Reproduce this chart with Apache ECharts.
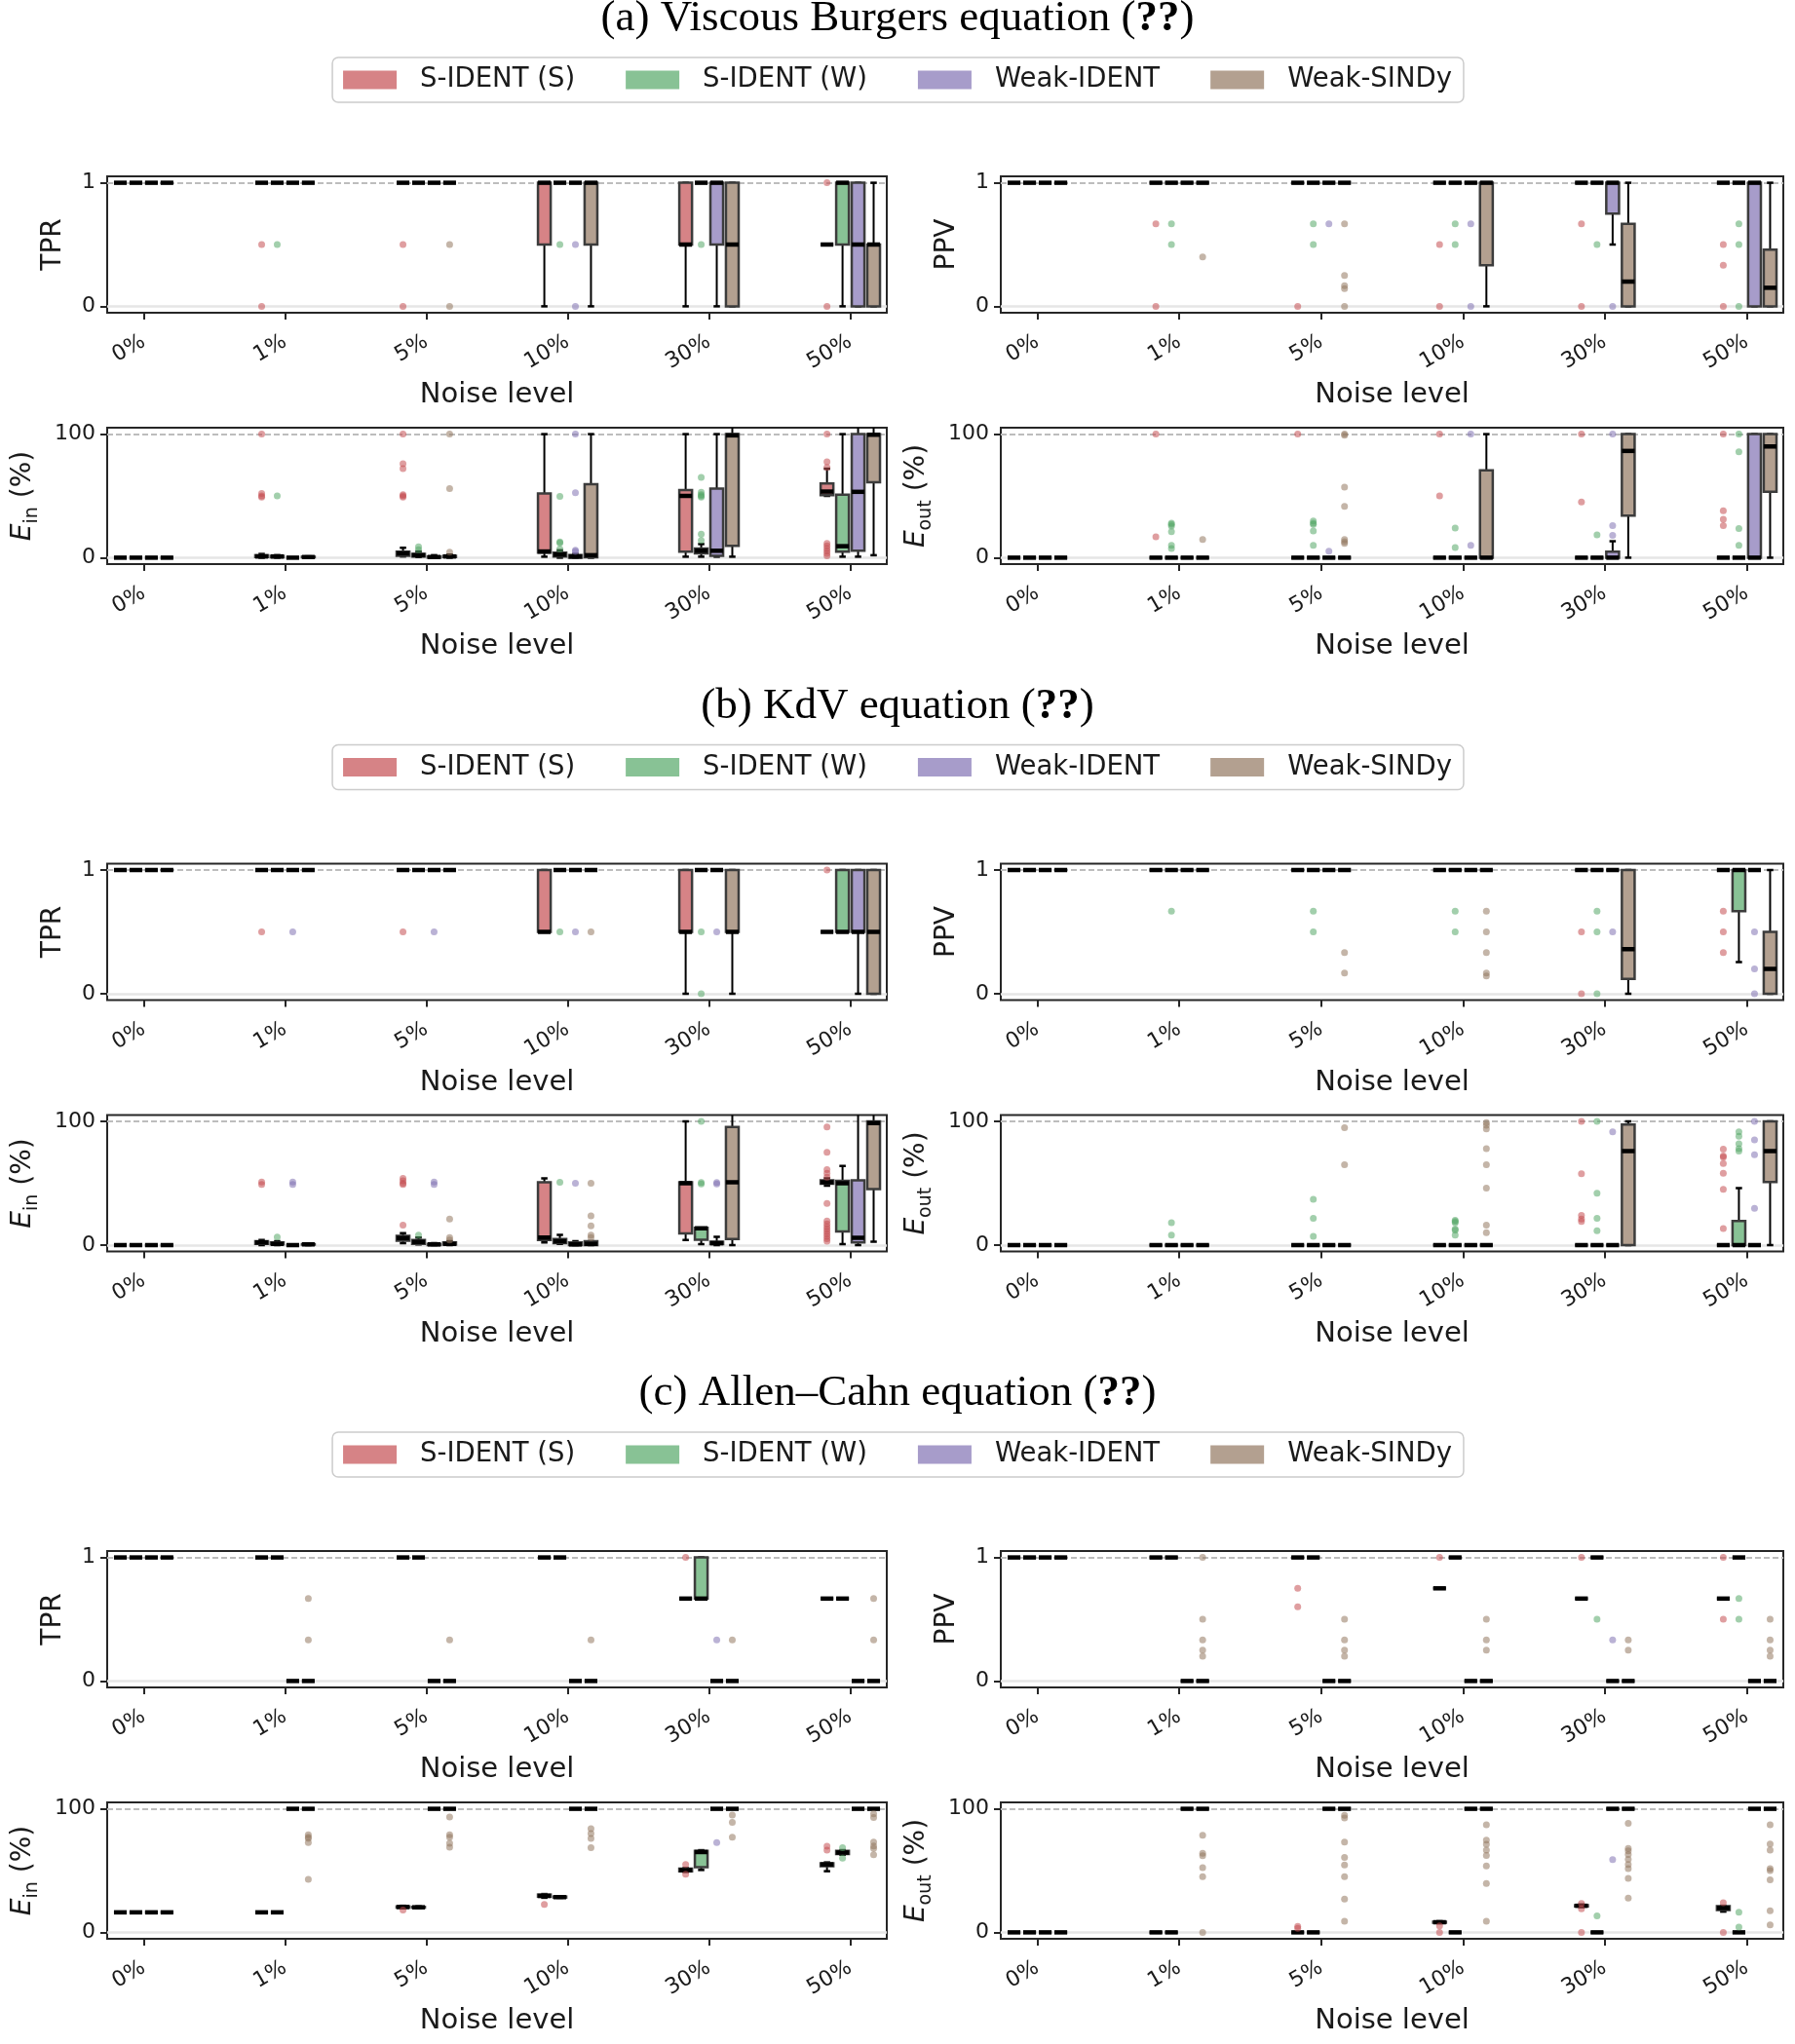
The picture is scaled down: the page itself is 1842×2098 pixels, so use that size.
<!DOCTYPE html>
<html lang="en">
<head>
<meta charset="UTF-8">
<title>Noise robustness</title>
<script src="https://cdn.jsdelivr.net/npm/echarts@6.0.0/dist/echarts.min.js"></script>
<style>
    html, body { margin: 0; padding: 0; background: #ffffff; }
    #main { width: 1842px; height: 2098px; }
</style>
</head>
<body>
<div id="main"></div>
<script type="text/javascript">
var noiseLevels = ['0%', '1%', '5%', '10%', '30%', '50%'];
var methods = ['S-IDENT (S)', 'S-IDENT (W)', 'Weak-IDENT', 'Weak-SINDy'];
var sectionTitles = ['(a) Viscous Burgers equation ', '(b) KdV equation ', '(c) Allen\u2013Cahn equation '];

// box stats per method and noise level: [min, q1, median, q3, max]; a single number = all runs equal
// fliers: [method, noise level, value]
var burgersTPR = [
    [1, 1, 1, [0, 0.5, 1, 1, 1], [0, 0.5, 0.5, 1, 1], 0.5],
    [1, 1, 1, 1, 1, [0, 0.5, 1, 1, 1]],
    [1, 1, 1, 1, [0, 0.5, 1, 1, 1], [0, 0, 0.5, 1, 1]],
    [1, 1, 1, [0, 0.5, 1, 1, 1], [0, 0, 0.5, 1, 1], [0, 0, 0.5, 0.5, 1]]
];
var burgersTPRFliers = [
    [0, 1, 0.5], [0, 1, 0], [1, 1, 0.5],
    [0, 2, 0.5], [0, 2, 0], [3, 2, 0.5], [3, 2, 0],
    [1, 3, 0.5], [2, 3, 0.5], [2, 3, 0],
    [1, 4, 0.5],
    [0, 5, 1], [0, 5, 0]
];
var burgersPPV = [
    [1, 1, 1, 1, 1, 1],
    [1, 1, 1, 1, 1, 1],
    [1, 1, 1, 1, [0.5, 0.75, 1, 1, 1], [0, 0, 1, 1, 1]],
    [1, 1, 1, [0, 0.333, 1, 1, 1], [0, 0, 0.2, 0.667, 1], [0, 0, 0.15, 0.458, 1]]
];
var burgersPPVFliers = [
    [0, 1, 0.667], [1, 1, 0.667], [1, 1, 0.5], [3, 1, 0.4], [0, 1, 0],
    [1, 2, 0.667], [2, 2, 0.667], [3, 2, 0.667], [1, 2, 0.5], [3, 2, 0.25], [3, 2, 0.167], [3, 2, 0.143], [0, 2, 0], [3, 2, 0],
    [1, 3, 0.667], [2, 3, 0.667], [0, 3, 0.5], [1, 3, 0.5], [0, 3, 0], [2, 3, 0],
    [0, 4, 0.667], [1, 4, 0.5], [0, 4, 0], [2, 4, 0],
    [1, 5, 0.667], [0, 5, 0.5], [1, 5, 0.5], [0, 5, 0.333], [0, 5, 0], [1, 5, 0]
];
var burgersEin = [
    [0, [0, 0.5, 1, 2, 3], [1, 1.6, 3.5, 4.8, 8], [0.8, 4, 5, 52, 100], [0.8, 4.8, 50, 54.7, 100], [50, 50.5, 53.5, 60, 72]],
    [0, [0, 0.3, 1, 1.5, 2], [0.5, 1, 2, 3, 5], [0, 1, 2.5, 4, 6], [0.8, 3.5, 5.6, 7.5, 11], [0.8, 4.8, 9.3, 51, 100]],
    [0, 0, [0, 0, 0.5, 1, 2], [0, 0, 1, 2, 3], [0.8, 1.6, 5.6, 56, 100], [0.8, 5.6, 53.3, 100, 115]],
    [0, [0, 0.3, 0.5, 0.8, 1], [0, 0.5, 1, 1.5, 2.5], [0, 0.3, 2, 59.5, 100], [0.8, 9.6, 99, 100, 115], [2, 61, 99.5, 100, 115]]
];
var burgersEinFliers = [
    [0, 1, 100], [0, 1, 52], [0, 1, 50], [0, 1, 49], [1, 1, 50],
    [0, 2, 100], [0, 2, 76], [0, 2, 72], [0, 2, 51], [0, 2, 50], [0, 2, 49], [1, 2, 8.8], [1, 2, 6.5], [3, 2, 100], [3, 2, 56], [3, 2, 4.5],
    [1, 3, 49.6], [1, 3, 12.8], [1, 3, 12], [1, 3, 7], [2, 3, 100], [2, 3, 52.5], [2, 3, 6], [2, 3, 5],
    [1, 4, 65], [1, 4, 53], [1, 4, 51], [1, 4, 50], [1, 4, 49], [1, 4, 19], [1, 4, 14],
    [0, 5, 100], [0, 5, 77.6], [0, 5, 73], [0, 5, 11.5], [0, 5, 9.5], [0, 5, 7.5], [0, 5, 5.5], [0, 5, 3.5], [0, 5, 1.5]
];
var burgersEout = [
    [0, 0, 0, 0, 0, 0],
    [0, 0, 0, 0, 0, 0],
    [0, 0, 0, 0, [0, 0, 0, 4.8, 13.3], [0, 0, 0, 100, 100]],
    [0, 0, 0, [0, 0, 0, 70.7, 100], [0, 34, 86.4, 100, 100], [0, 53.3, 90, 100, 100]]
];
var burgersEoutFliers = [
    [0, 1, 100], [0, 1, 16.8], [1, 1, 28], [1, 1, 27], [1, 1, 25.5], [1, 1, 21], [1, 1, 10], [1, 1, 7.5], [3, 1, 14.7],
    [0, 2, 100], [3, 2, 100], [3, 2, 99], [1, 2, 29.6], [1, 2, 28], [1, 2, 27], [1, 2, 21.6], [1, 2, 10], [2, 2, 5.3], [3, 2, 57], [3, 2, 41.6], [3, 2, 14.7], [3, 2, 13], [3, 2, 11.5],
    [0, 3, 100], [2, 3, 100], [0, 3, 50], [1, 3, 24], [1, 3, 8.3], [2, 3, 10],
    [2, 4, 100], [2, 4, 26], [2, 4, 18], [0, 4, 100], [0, 4, 45], [1, 4, 18.5],
    [0, 5, 100], [1, 5, 100], [1, 5, 85.6], [0, 5, 38], [0, 5, 31], [0, 5, 26], [1, 5, 23.5], [1, 5, 10]
];
var kdvTPR = [
    [1, 1, 1, [0.5, 0.5, 0.5, 1, 1], [0, 0.5, 0.5, 1, 1], 0.5],
    [1, 1, 1, 1, 1, [0.5, 0.5, 0.5, 1, 1]],
    [1, 1, 1, 1, 1, [0, 0.5, 0.5, 1, 1]],
    [1, 1, 1, 1, [0, 0.5, 0.5, 1, 1], [0, 0, 0.5, 1, 1]]
];
var kdvTPRFliers = [
    [0, 1, 0.5], [2, 1, 0.5], [0, 2, 0.5], [2, 2, 0.5],
    [1, 3, 0.5], [2, 3, 0.5], [3, 3, 0.5],
    [1, 4, 0.5], [1, 4, 0], [2, 4, 0.5],
    [0, 5, 1]
];
var kdvPPV = [
    [1, 1, 1, 1, 1, 1],
    [1, 1, 1, 1, 1, [0.255, 0.667, 1, 1, 1]],
    [1, 1, 1, 1, 1, 1],
    [1, 1, 1, 1, [0, 0.12, 0.36, 1, 1], [0, 0, 0.2, 0.5, 1]]
];
var kdvPPVFliers = [
    [1, 1, 0.667],
    [1, 2, 0.667], [1, 2, 0.5], [3, 2, 0.333], [3, 2, 0.167],
    [1, 3, 0.667], [3, 3, 0.667], [1, 3, 0.5], [3, 3, 0.5], [3, 3, 0.333], [3, 3, 0.167], [3, 3, 0.143],
    [1, 4, 0.667], [0, 4, 0.5], [1, 4, 0.5], [2, 4, 0.5], [0, 4, 0], [1, 4, 0],
    [0, 5, 0.667], [0, 5, 0.5], [0, 5, 0.333], [2, 5, 0.5], [2, 5, 0.2], [2, 5, 0]
];
var kdvEin = [
    [0, [0, 1, 2, 3, 4], [1.6, 3.5, 5.6, 7.5, 9.6], [2, 4, 6, 50.7, 54], [4, 9.3, 50, 50.7, 100], [48, 49.6, 50.7, 52.3, 54]],
    [0, [0, 0.5, 1, 2, 3], [0.5, 1, 2.5, 4, 6], [1, 1.5, 3, 4.8, 8.3], [0.8, 4.3, 13.5, 14, 14], [0.8, 11, 50, 52, 64]],
    [0, 0, [0, 0, 0.5, 1, 1.5], [0, 0, 0.5, 2, 3], [0, 0.8, 1.6, 2.7, 6.7], [0, 2, 5.9, 52.3, 115]],
    [0, [0, 0.3, 0.5, 0.8, 1], [0, 0.3, 1, 2, 3], [0, 0, 1, 3, 3], [0, 4.8, 50.7, 95.5, 115], [2.7, 45.3, 98.7, 100, 115]]
];
var kdvEinFliers = [
    [0, 1, 51], [0, 1, 49], [2, 1, 51], [2, 1, 49], [1, 1, 6.5],
    [0, 2, 54], [0, 2, 52], [0, 2, 50], [0, 2, 49], [0, 2, 16], [1, 2, 8], [2, 2, 51], [2, 2, 49], [3, 2, 21], [3, 2, 6], [3, 2, 4],
    [1, 3, 50.7], [2, 3, 50], [3, 3, 50], [3, 3, 23.5], [3, 3, 15.5], [3, 3, 8], [3, 3, 6],
    [1, 4, 100], [1, 4, 50.5], [1, 4, 49.5], [2, 4, 50.5], [2, 4, 49.5],
    [0, 5, 95.5], [0, 5, 75], [0, 5, 61], [0, 5, 58], [0, 5, 55], [0, 5, 33.6], [0, 5, 19.5], [0, 5, 17], [0, 5, 15], [0, 5, 13], [0, 5, 11], [0, 5, 9], [0, 5, 7], [0, 5, 5], [0, 5, 3]
];
var kdvEout = [
    [0, 0, 0, 0, 0, 0],
    [0, 0, 0, 0, 0, [0, 0, 0, 19.5, 46]],
    [0, 0, 0, 0, 0, 0],
    [0, 0, 0, 0, [0, 0, 76, 97.6, 100], [0, 51, 76, 100, 100]]
];
var kdvEoutFliers = [
    [1, 1, 18], [1, 1, 8],
    [3, 2, 95], [3, 2, 65], [1, 2, 37], [1, 2, 21.6], [1, 2, 7],
    [3, 3, 99], [3, 3, 97], [3, 3, 94], [3, 3, 78], [3, 3, 65], [3, 3, 46], [3, 3, 16], [3, 3, 10],
    [1, 3, 20], [1, 3, 19], [1, 3, 18], [1, 3, 13], [1, 3, 12], [1, 3, 8],
    [0, 4, 100], [0, 4, 57.6], [0, 4, 24], [0, 4, 21], [0, 4, 19], [1, 4, 100], [1, 4, 42], [1, 4, 21.6], [1, 4, 11.5], [2, 4, 91.5],
    [0, 5, 77.6], [0, 5, 72], [0, 5, 71], [0, 5, 66], [0, 5, 58], [0, 5, 45], [0, 5, 13.3],
    [1, 5, 91.5], [1, 5, 88], [1, 5, 82], [1, 5, 78], [1, 5, 76], [2, 5, 100], [2, 5, 85], [2, 5, 73], [2, 5, 29.6]
];
var acTPR = [
    [1, 1, 1, 1, 0.667, 0.667],
    [1, 1, 1, 1, [0.667, 0.667, 0.667, 1, 1], 0.667],
    [1, 0, 0, 0, 0, 0],
    [1, 0, 0, 0, 0, 0]
];
var acTPRFliers = [
    [3, 1, 0.667], [3, 1, 0.333], [3, 2, 0.333], [3, 3, 0.333],
    [0, 4, 1], [2, 4, 0.333], [3, 4, 0.333], [3, 5, 0.667], [3, 5, 0.333]
];
var acPPV = [
    [1, 1, 1, 0.75, 0.667, 0.667],
    [1, 1, 1, 1, 1, 1],
    [1, 0, 0, 0, 0, 0],
    [1, 0, 0, 0, 0, 0]
];
var acPPVFliers = [
    [3, 1, 1], [3, 1, 0.5], [3, 1, 0.333], [3, 1, 0.25], [3, 1, 0.2],
    [0, 2, 0.75], [0, 2, 0.6], [3, 2, 0.5], [3, 2, 0.333], [3, 2, 0.25], [3, 2, 0.2],
    [0, 3, 1], [3, 3, 0.5], [3, 3, 0.333], [3, 3, 0.25],
    [0, 4, 1], [1, 4, 0.5], [2, 4, 0.333], [3, 4, 0.333], [3, 4, 0.25],
    [0, 5, 1], [1, 5, 0.667], [0, 5, 0.5], [1, 5, 0.5], [3, 5, 0.5], [3, 5, 0.333], [3, 5, 0.25], [3, 5, 0.2]
];
var acEin = [
    [16.2, 16.2, [19.5, 20, 20.5, 21, 21.5], [28, 28.8, 29.5, 30.6, 31], [49, 49.5, 50.3, 51.5, 52], [49.5, 53.5, 55, 56, 56.6]],
    [16.2, 16.2, [19.8, 20, 20.3, 20.6, 21], [28, 28.2, 28.5, 29, 29.3], [50.5, 52.7, 65, 66, 66.5], [62.8, 63.5, 64.6, 66, 66.5]],
    [16.2, 100, 100, 100, 100, 100],
    [16.2, 100, 100, 100, 100, 100]
];
var acEinFliers = [
    [3, 1, 79], [3, 1, 77], [3, 1, 76], [3, 1, 72.6], [3, 1, 43],
    [0, 2, 18], [3, 2, 93.4], [3, 2, 79], [3, 2, 77], [3, 2, 72], [3, 2, 69],
    [0, 3, 22.6], [3, 3, 84], [3, 3, 80], [3, 3, 76], [3, 3, 68.6],
    [0, 4, 55], [0, 4, 47], [2, 4, 72.6], [3, 4, 95], [3, 4, 89], [3, 4, 77],
    [0, 5, 69.7], [0, 5, 66.5], [1, 5, 68.6], [1, 5, 60], [3, 5, 96], [3, 5, 93], [3, 5, 73], [3, 5, 70], [3, 5, 68], [3, 5, 62.8]
];
var acEout = [
    [0, 0, 0, [7.5, 7.8, 8.2, 8.6, 9], [20.5, 21, 21.5, 22, 22.5], [16.8, 18, 19.7, 21.3, 21.5]],
    [0, 0, 0, 0, 0, 0],
    [0, 100, 100, 100, 100, 100],
    [0, 100, 100, 100, 100, 100]
];
var acEoutFliers = [
    [3, 1, 78.5], [3, 1, 64], [3, 1, 62], [3, 1, 52.4], [3, 1, 45], [3, 1, 0],
    [0, 2, 4.8], [0, 2, 3.2], [3, 2, 94.7], [3, 2, 92.5], [3, 2, 73], [3, 2, 60.6], [3, 2, 54.5], [3, 2, 45], [3, 2, 27], [3, 2, 9],
    [0, 3, 5.3], [0, 3, 0], [3, 3, 87], [3, 3, 74.7], [3, 3, 71.3], [3, 3, 66.5], [3, 3, 62.2], [3, 3, 53.7], [3, 3, 39.6], [3, 3, 9],
    [0, 4, 23.4], [0, 4, 19], [0, 4, 0], [1, 4, 13.3], [2, 4, 58.8], [3, 4, 88.3], [3, 4, 68], [3, 4, 66], [3, 4, 63], [3, 4, 59], [3, 4, 55], [3, 4, 51.6], [3, 4, 43.6], [3, 4, 27.7],
    [0, 5, 24], [0, 5, 0], [1, 5, 16.2], [1, 5, 4.3], [3, 5, 87], [3, 5, 71.5], [3, 5, 66.5], [3, 5, 51.6], [3, 5, 50], [3, 5, 42.5], [3, 5, 17.5], [3, 5, 6.1]
];

// panel list: section, column, row, y label, data
var panels = [
    {sec: 0, col: 0, row: 0, kind: 'rate', label: 'TPR', boxes: burgersTPR, fliers: burgersTPRFliers},
    {sec: 0, col: 1, row: 0, kind: 'rate', label: 'PPV', boxes: burgersPPV, fliers: burgersPPVFliers},
    {sec: 0, col: 0, row: 1, kind: 'err', label: '{e|E}{s|in}{p| (%)}', boxes: burgersEin, fliers: burgersEinFliers},
    {sec: 0, col: 1, row: 1, kind: 'err', label: '{e|E}{s|out}{p| (%)}', boxes: burgersEout, fliers: burgersEoutFliers},
    {sec: 1, col: 0, row: 0, kind: 'rate', label: 'TPR', boxes: kdvTPR, fliers: kdvTPRFliers},
    {sec: 1, col: 1, row: 0, kind: 'rate', label: 'PPV', boxes: kdvPPV, fliers: kdvPPVFliers},
    {sec: 1, col: 0, row: 1, kind: 'err', label: '{e|E}{s|in}{p| (%)}', boxes: kdvEin, fliers: kdvEinFliers},
    {sec: 1, col: 1, row: 1, kind: 'err', label: '{e|E}{s|out}{p| (%)}', boxes: kdvEout, fliers: kdvEoutFliers},
    {sec: 2, col: 0, row: 0, kind: 'rate', label: 'TPR', boxes: acTPR, fliers: acTPRFliers},
    {sec: 2, col: 1, row: 0, kind: 'rate', label: 'PPV', boxes: acPPV, fliers: acPPVFliers},
    {sec: 2, col: 0, row: 1, kind: 'err', label: '{e|E}{s|in}{p| (%)}', boxes: acEin, fliers: acEinFliers},
    {sec: 2, col: 1, row: 1, kind: 'err', label: '{e|E}{s|out}{p| (%)}', boxes: acEout, fliers: acEoutFliers}
];

var FACE = ['#d68386', '#88c295', '#a79cca', '#b3a090'];
var DOT = ['#c44e52', '#55a868', '#8172b3', '#937860'];
var OFFSETS = [-0.165, -0.055, 0.055, 0.165];
var BOX_W = 0.09;
var SEC_STEP = 705.5;
var GRID_LEFT = [110, 1027], GRID_W = [800, 803];
var ROW_TOP = [181, 439], GRID_H = 140;
var INK = '#1a1a1a';
var SANS = 'DejaVu Sans';

function expand(b) {
    return typeof b === 'number' ? [b, b, b, b, b] : b;
}

function renderBox(params, api) {
    var x = api.value(0);
    var p = [1, 2, 3, 4, 5].map(function (d) { return api.coord([x, api.value(d)]); });
    var w = api.size([BOX_W, 0])[0];
    var cx = p[0][0], half = w / 2, cap = w / 4;
    var wh = {stroke: '#000', lineWidth: 2};
    return {
        type: 'group',
        children: [
            {type: 'line', shape: {x1: cx, y1: p[3][1], x2: cx, y2: p[4][1]}, style: wh},
            {type: 'line', shape: {x1: cx, y1: p[0][1], x2: cx, y2: p[1][1]}, style: wh},
            {type: 'line', shape: {x1: cx - cap, y1: p[4][1], x2: cx + cap, y2: p[4][1]}, style: {stroke: '#000', lineWidth: 2.5}},
            {type: 'line', shape: {x1: cx - cap, y1: p[0][1], x2: cx + cap, y2: p[0][1]}, style: {stroke: '#000', lineWidth: 2.5}},
            {type: 'rect', shape: {x: cx - half, y: p[3][1], width: w, height: p[1][1] - p[3][1]},
                style: {fill: api.visual('color'), stroke: '#3c3c3c', lineWidth: 2.5}},
            {type: 'line', shape: {x1: cx - half, y1: p[2][1], x2: cx + half, y2: p[2][1]}, style: {stroke: '#000', lineWidth: 4.5}}
        ]
    };
}

var option = {
    animation: false,
    backgroundColor: '#ffffff',
    textStyle: {fontFamily: SANS},
    title: [],
    legend: [],
    grid: [],
    xAxis: [],
    yAxis: [],
    series: []
};

sectionTitles.forEach(function (t, k) {
    option.title.push({
        text: t + '({b|??})',
        left: 'center',
        top: -3 + k * SEC_STEP,
        padding: 0,
        textStyle: {
            fontFamily: 'Liberation Serif', fontSize: 45, fontWeight: 'normal', color: '#000',
            rich: {b: {fontFamily: 'Liberation Serif', fontSize: 45, fontWeight: 'bold', color: '#000'}}
        }
    });
    option.legend.push({
        data: methods,
        top: 59 + k * SEC_STEP,
        left: 'center',
        icon: 'rect',
        itemWidth: 55,
        itemHeight: 19,
        itemGap: 52,
        padding: [9, 12, 9, 11],
        borderColor: '#cccccc',
        borderWidth: 1.5,
        borderRadius: 6,
        selectedMode: false,
        itemStyle: {borderWidth: 0},
        textStyle: {fontSize: 27.5, fontFamily: SANS, color: INK, padding: [0, 0, 0, 19]}
    });
});

panels.forEach(function (p, i) {
    var isRate = p.kind === 'rate';
    var top = isRate ? 1 : 100;
    option.grid.push({
        left: GRID_LEFT[p.col], top: ROW_TOP[p.row] + p.sec * SEC_STEP,
        width: GRID_W[p.col], height: GRID_H,
        show: true, borderColor: '#262626', borderWidth: 2
    });
    option.xAxis.push({
        gridIndex: i, type: 'value', min: -0.258, max: 5.258, position: 'bottom',
        axisLine: {show: false, onZero: false}, splitLine: {show: false},
        axisTick: {customValues: [0, 1, 2, 3, 4, 5], length: 7, lineStyle: {color: '#262626', width: 2}},
        axisLabel: {
            customValues: [0, 1, 2, 3, 4, 5], rotate: 30, margin: 28, fontSize: 22, color: INK,
            formatter: function (v) { return noiseLevels[Math.round(v)]; }
        },
        name: 'Noise level', nameLocation: 'middle', nameGap: 70,
        nameTextStyle: {fontSize: 29, color: INK}
    });
    option.yAxis.push({
        gridIndex: i, type: 'value', position: 'left',
        min: isRate ? -0.052 : -5.2, max: isRate ? 1.052 : 105.2,
        axisLine: {show: false, onZero: false}, splitLine: {show: false},
        axisTick: {customValues: [0, top], length: 7, lineStyle: {color: '#262626', width: 2}},
        axisLabel: {customValues: [0, top], margin: 12, fontSize: 22, color: INK},
        name: p.label, nameLocation: 'middle', nameGap: isRate ? 41 : 67,
        nameTextStyle: {
            fontSize: 28, color: INK,
            rich: {
                e: {fontSize: 28, fontStyle: 'italic', color: INK, lineHeight: 38, verticalAlign: 'middle'},
                s: {fontSize: 19, color: INK, lineHeight: 38, verticalAlign: 'bottom'},
                p: {fontSize: 28, color: INK, lineHeight: 38, verticalAlign: 'middle'}
            }
        }
    });
    methods.forEach(function (name, m) {
        var s = {
            type: 'custom', name: name, xAxisIndex: i, yAxisIndex: i, clip: true, z: 3,
            itemStyle: {color: FACE[m]},
            renderItem: renderBox,
            encode: {x: 0, y: [1, 2, 3, 4, 5]},
            data: p.boxes[m].map(function (b, n) { return [n + OFFSETS[m]].concat(expand(b)); })
        };
        if (m === 0) {
            // reference lines at the best and worst values, kept behind the boxes
            s.markLine = {
                silent: true, symbol: 'none', label: {show: false}, animation: false, z: 1,
                data: [
                    {yAxis: top, lineStyle: {type: [6, 3], color: '#bdbdbd', width: 2}},
                    {yAxis: 0, lineStyle: {type: 'solid', color: '#e6e6e6', width: 2.5}}
                ]
            };
        }
        option.series.push(s);
    });
    methods.forEach(function (name, m) {
        option.series.push({
            type: 'scatter', name: name, xAxisIndex: i, yAxisIndex: i, clip: true, z: 4, silent: true,
            symbolSize: 7,
            itemStyle: {color: DOT[m], opacity: 0.55},
            data: p.fliers.filter(function (f) { return f[0] === m; })
                .map(function (f) { return [f[1] + OFFSETS[m], f[2]]; })
        });
    });
});

var myChart = echarts.init(document.getElementById('main'));
myChart.setOption(option);
</script>
</body>
</html>
